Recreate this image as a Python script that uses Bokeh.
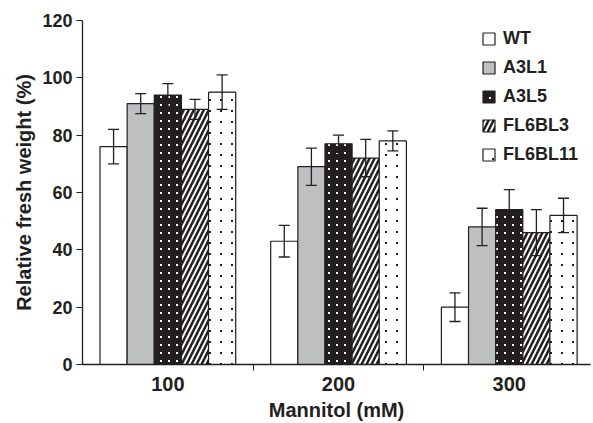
import numpy as np
from bokeh.plotting import figure
from bokeh.models import (ColumnDataSource, Whisker, FixedTicker, Legend, LegendItem, Range1d, TeeHead)
from bokeh.embed import file_html
from bokeh.resources import INLINE

groups = ["100", "200", "300"]
series = ["WT", "A3L1", "A3L5", "FL6BL3", "FL6BL11"]
values = {
    "WT":      [76, 43, 20],
    "A3L1":    [91, 69, 48],
    "A3L5":    [94, 77, 54],
    "FL6BL3":  [89, 72, 46],
    "FL6BL11": [95, 78, 52],
}
errors = {
    "WT":      [6, 5.5, 5],
    "A3L1":    [3.5, 6.5, 6.5],
    "A3L5":    [4, 3, 7],
    "FL6BL3":  [3.5, 6.5, 8],
    "FL6BL11": [6, 3.5, 6],
}
y_ticks = [0, 20, 40, 60, 80, 100, 120]

INK = "#231f20"
FONT = "Liberation Sans"

# dotted fills are made from a thick grid that leaves small square holes
styles = {
    "WT":      dict(fill_color="white"),
    "A3L1":    dict(fill_color="#bdbfc1"),
    "A3L5":    dict(fill_color="white", hatch_pattern="cross", hatch_color=INK, hatch_scale=8, hatch_weight=6),
    "FL6BL3":  dict(fill_color="white", hatch_pattern="right_diagonal_line", hatch_color=INK,
                    hatch_scale=10, hatch_weight=2.5),
    "FL6BL11": dict(fill_color=INK, hatch_pattern="cross", hatch_color="white", hatch_scale=11, hatch_weight=9),
}

p = figure(width=593, height=423, output_backend="svg", toolbar_location=None,
           x_range=Range1d(0, 2.976), y_range=Range1d(0, 120),
           min_border_left=82, min_border_right=3, min_border_top=20, min_border_bottom=59)
p.outline_line_color = None
p.grid.visible = False
p.background_fill_color = "white"

bw = 0.159
centers = np.arange(len(groups)) + 0.5
items = []
for j, s in enumerate(series):
    x = centers + (j - (len(series) - 1) / 2) * bw
    v = np.array(values[s], dtype=float)
    e = np.array(errors[s], dtype=float)
    src = ColumnDataSource(dict(x=x, top=v, upper=v + e, lower=v - e))
    r = p.vbar(x="x", top="top", width=bw, source=src, line_color=INK, line_width=1.2, **styles[s])
    items.append(LegendItem(label=s, renderers=[r]))
    w = Whisker(base="x", upper="upper", lower="lower", source=src, line_color=INK, line_width=1.3,
                level="overlay",
                upper_head=TeeHead(size=11, line_color=INK, line_width=1.3),
                lower_head=TeeHead(size=11, line_color=INK, line_width=1.3))
    p.add_layout(w)

legend = Legend(items=items, location=(399, 199), border_line_color=None,
                background_fill_alpha=0, padding=0, margin=0, spacing=8,
                glyph_width=15, glyph_height=15, label_height=15, label_standoff=7,
                label_text_font=FONT, label_text_font_style="bold", label_text_font_size="18px",
                label_text_color=INK)
p.add_layout(legend, "center")

# x axis
p.xaxis.ticker = FixedTicker(ticks=list(centers), minor_ticks=[1, 2])
p.xaxis.major_label_overrides = {float(c): g for c, g in zip(centers, groups)}
p.xaxis.major_tick_out = 0
p.xaxis.major_tick_in = 0
p.xaxis.minor_tick_out = 6
p.xaxis.minor_tick_in = 0
p.xaxis.minor_tick_line_color = INK
p.xaxis.axis_line_color = INK
p.xaxis.axis_line_width = 1.3
p.xaxis.major_label_standoff = 6
p.xaxis.major_label_text_font = FONT
p.xaxis.major_label_text_font_style = "bold"
p.xaxis.major_label_text_font_size = "20px"
p.xaxis.major_label_text_color = INK
p.xaxis.axis_label = "Mannitol (mM)"
p.xaxis.axis_label_text_font = FONT
p.xaxis.axis_label_text_font_style = "bold"
p.xaxis.axis_label_text_font_size = "20px"
p.xaxis.axis_label_text_color = INK
p.xaxis.axis_label_standoff = 5

# y axis
p.yaxis.ticker = FixedTicker(ticks=y_ticks)
p.yaxis.major_tick_out = 6
p.yaxis.major_tick_in = 0
p.yaxis.minor_tick_out = 0
p.yaxis.minor_tick_in = 0
p.yaxis.major_tick_line_color = INK
p.yaxis.axis_line_color = INK
p.yaxis.axis_line_width = 1.3
p.yaxis.major_label_standoff = 4
p.yaxis.major_label_text_font = FONT
p.yaxis.major_label_text_font_style = "bold"
p.yaxis.major_label_text_font_size = "18px"
p.yaxis.major_label_text_color = INK
p.yaxis.axis_label = "Relative fresh weight (%)"
p.yaxis.axis_label_text_font = FONT
p.yaxis.axis_label_text_font_style = "bold"
p.yaxis.axis_label_text_font_size = "20px"
p.yaxis.axis_label_text_color = INK
p.yaxis.axis_label_standoff = 4

open("out.html", "w").write(file_html(p, INLINE))
